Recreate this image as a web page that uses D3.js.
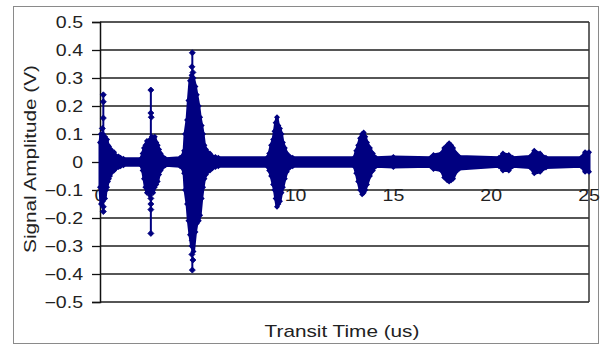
<!DOCTYPE html>
<html>
<head>
<meta charset="utf-8">
<script src="https://cdn.jsdelivr.net/npm/d3@7"></script>
<style>
  body { margin: 0; background: #fff; }
  svg { display: block; }
  text { font-family: "Liberation Sans", Arial, sans-serif; fill: #222; }
</style>
</head>
<body>
<div id="chart"></div>
<script>
// axis ticks
const xTicks = [0, 5, 10, 15, 20, 25];
const yTicks = [-0.5, -0.4, -0.3, -0.2, -0.1, 0, 0.1, 0.2, 0.3, 0.4, 0.5];

// signal envelope (time in us, volts)
const envTime  = [0.00, 0.05, 0.10, 0.15, 0.20, 0.26, 0.31, 0.36, 0.41, 0.46, 0.51, 0.56, 0.61, 0.66, 0.72, 0.77, 0.85, 0.95, 1.05, 1.20,
                  2.10, 2.18, 2.25, 2.32, 2.40, 2.48, 2.56, 2.65, 2.72, 2.80, 2.88, 2.95, 3.02, 3.10, 3.20, 3.35,
                  4.10, 4.20, 4.30, 4.35, 4.45, 4.52, 4.60, 4.68, 4.78, 4.88, 4.95, 5.05, 5.12, 5.20, 5.27, 5.34, 5.42, 5.50, 5.62, 5.75, 5.90, 6.05,
                  8.55, 8.65, 8.75, 8.85, 8.92, 8.98, 9.05, 9.12, 9.20, 9.28, 9.35, 9.45, 9.55, 9.70, 9.85,
                  13.00, 13.10, 13.20, 13.30, 13.40, 13.48, 13.56, 13.65, 13.80, 13.95, 14.10,
                  15.00, 16.90, 17.05, 17.45, 17.60, 17.75, 17.85, 17.95, 18.05, 18.20, 18.35,
                  20.40, 20.60, 20.90, 21.10, 22.00, 22.20, 22.50, 22.80, 24.60, 24.80, 25.00];
const envUpper = [0.07, 0.10, 0.09, 0.10, 0.08, 0.09, 0.07, 0.08, 0.06, 0.055, 0.04, 0.045, 0.035, 0.03, 0.035, 0.025, 0.02, 0.02, 0.015, 0.012,
                  0.012, 0.03, 0.05, 0.06, 0.075, 0.07, 0.08, 0.09, 0.085, 0.09, 0.07, 0.06, 0.045, 0.03, 0.02, 0.012,
                  0.015, 0.02, 0.04, 0.10, 0.15, 0.22, 0.29, 0.31, 0.30, 0.27, 0.24, 0.20, 0.16, 0.13, 0.10, 0.06, 0.045, 0.035, 0.03, 0.02, 0.018, 0.015,
                  0.015, 0.03, 0.06, 0.08, 0.11, 0.14, 0.16, 0.13, 0.12, 0.10, 0.07, 0.05, 0.03, 0.02, 0.015,
                  0.015, 0.04, 0.06, 0.085, 0.10, 0.105, 0.09, 0.07, 0.05, 0.03, 0.015,
                  0.018, 0.015, 0.025, 0.03, 0.05, 0.06, 0.067, 0.06, 0.05, 0.03, 0.02,
                  0.015, 0.03, 0.025, 0.015, 0.02, 0.04, 0.03, 0.015, 0.015, 0.035, 0.035];
const envLower = [-0.09, -0.15, -0.11, -0.14, -0.12, -0.13, -0.10, -0.09, -0.07, -0.06, -0.05, -0.04, -0.035, -0.03, -0.03, -0.025, -0.02, -0.018, -0.015, -0.012,
                  -0.012, -0.03, -0.06, -0.09, -0.11, -0.10, -0.12, -0.10, -0.11, -0.09, -0.08, -0.07, -0.045, -0.03, -0.02, -0.012,
                  -0.015, -0.02, -0.04, -0.10, -0.15, -0.21, -0.26, -0.30, -0.32, -0.25, -0.22, -0.21, -0.19, -0.13, -0.09, -0.06, -0.045, -0.035, -0.03, -0.022, -0.018, -0.015,
                  -0.015, -0.03, -0.05, -0.08, -0.10, -0.13, -0.16, -0.15, -0.14, -0.11, -0.09, -0.06, -0.035, -0.02, -0.015,
                  -0.015, -0.04, -0.07, -0.10, -0.115, -0.11, -0.10, -0.08, -0.05, -0.03, -0.015,
                  -0.018, -0.015, -0.025, -0.03, -0.055, -0.065, -0.07, -0.065, -0.06, -0.035, -0.025,
                  -0.015, -0.03, -0.03, -0.015, -0.02, -0.04, -0.035, -0.02, -0.015, -0.035, -0.035];

// isolated spikes (thin vertical excursions)
const spikeTime   = [0.17, 2.60, 4.72];
const spikeTop    = [0.24, 0.257, 0.39];
const spikeBottom = [-0.177, -0.255, -0.386];

// diamond markers visible along the spikes
const markTime  = [0.17, 0.17, 0.17, 0.12, 0.17, 0.17, 0.17,
                   2.60, 2.60, 2.62, 2.60, 2.60, 2.60, 2.60,
                   4.72, 4.70, 4.75, 4.68, 4.72, 4.70, 4.75, 4.72];
const markValue = [0.24, 0.215, 0.157, 0.12, -0.13, -0.16, -0.177,
                   0.257, 0.175, 0.16, -0.13, -0.15, -0.17, -0.255,
                   0.39, 0.34, 0.32, 0.27, -0.28, -0.33, -0.35, -0.386];

const navy = '#000080';
const W = 600, H = 345;
const plot = { left: 100, right: 589, top: 22, bottom: 302 };
const stretch = 1.22;   // text in the picture is wider than Arial

const svg = d3.select('#chart').append('svg')
  .attr('width', W)
  .attr('height', H);

// outer chart frame
svg.append('rect')
  .attr('x', 13.5).attr('y', 6.5)
  .attr('width', 585).attr('height', 337)
  .attr('fill', '#fff')
  .attr('stroke', '#8a8a8a');

const x = d3.scaleLinear().domain([0, 25]).range([plot.left, plot.right]);
const y = d3.scaleLinear().domain([-0.5, 0.5]).range([plot.bottom, plot.top]);

// gridlines
svg.append('g')
  .selectAll('line')
  .data(yTicks)
  .join('line')
  .attr('x1', plot.left).attr('x2', plot.right)
  .attr('y1', d => y(d)).attr('y2', d => y(d))
  .attr('stroke', '#1e1e1e')
  .attr('stroke-width', 1.3);

// plot frame (right side)
svg.append('line')
  .attr('x1', plot.right).attr('x2', plot.right)
  .attr('y1', plot.top).attr('y2', plot.bottom)
  .attr('stroke', '#333').attr('stroke-width', 1.5);

// y axis
const yAxis = svg.append('g')
  .attr('transform', `translate(${plot.left},0)`)
  .call(d3.axisLeft(y).tickValues(yTicks).tickSize(8).tickPadding(9)
    .tickFormat(d => d === 0 ? '0' : d3.format('.1f')(d)));
yAxis.select('.domain').attr('stroke', '#111').attr('stroke-width', 1.5);
yAxis.selectAll('.tick line').attr('stroke', '#111').attr('stroke-width', 1.3);
yAxis.selectAll('.tick text')
  .attr('font-size', 16)
  .attr('font-family', '"Liberation Sans", Arial, sans-serif')
  .attr('fill', '#222');

// x tick labels sit below the zero line, drawn under the data
svg.append('g')
  .selectAll('text')
  .data(xTicks)
  .join('text')
  .attr('class', 'stretch')
  .attr('x', d => x(d))
  .attr('y', y(0) + 39)
  .attr('text-anchor', 'middle')
  .attr('font-size', 16)
  .text(d => d);

// data layer
const chart = svg.append('g').attr('class', 'plotArea');

const area = d3.area()
  .x((d, i) => x(envTime[i]))
  .y0((d, i) => y(envLower[i]))
  .y1((d, i) => y(envUpper[i]));

chart.append('path')
  .datum(envTime)
  .attr('d', area)
  .attr('fill', navy)
  .attr('stroke', navy)
  .attr('stroke-width', 3)
  .attr('stroke-linejoin', 'round');

chart.selectAll('line.spike')
  .data(spikeTime)
  .join('line')
  .attr('class', 'spike')
  .attr('x1', d => x(d)).attr('x2', d => x(d))
  .attr('y1', (d, i) => y(spikeTop[i]))
  .attr('y2', (d, i) => y(spikeBottom[i]))
  .attr('stroke', navy)
  .attr('stroke-width', 2);

const diamond = d3.symbol().type(d3.symbolSquare).size(18);

// beaded edge: markers on the envelope samples
chart.selectAll('path.edge')
  .data(envTime.flatMap((t, i) => [[t, envUpper[i]], [t, envLower[i]]]))
  .join('path')
  .attr('class', 'edge')
  .attr('transform', d => `translate(${x(d[0])},${y(d[1])}) rotate(45)`)
  .attr('d', diamond)
  .attr('fill', navy);

chart.selectAll('path.marker')
  .data(markTime)
  .join('path')
  .attr('class', 'marker')
  .attr('transform', (d, i) => `translate(${x(d)},${y(markValue[i])}) rotate(45)`)
  .attr('d', diamond)
  .attr('fill', navy)
  .attr('stroke', navy)
  .attr('stroke-width', 0.8);

// axis titles
svg.append('text')
  .attr('class', 'stretch')
  .attr('x', 342)
  .attr('y', 337)
  .attr('text-anchor', 'middle')
  .attr('font-size', 17)
  .text('Transit Time (us)');

svg.append('text')
  .attr('class', 'stretch')
  .attr('transform', 'translate(36,159) rotate(-90)')
  .attr('text-anchor', 'middle')
  .attr('font-size', 17)
  .text('Signal Amplitude (V)');

// widen texts to match the stretched look of the original
yAxis.selectAll('.tick text').classed('stretch', true);
svg.selectAll('text.stretch').each(function () {
  const len = this.getComputedTextLength();
  d3.select(this)
    .attr('textLength', len * stretch)
    .attr('lengthAdjust', 'spacingAndGlyphs');
});
</script>
</body>
</html>
